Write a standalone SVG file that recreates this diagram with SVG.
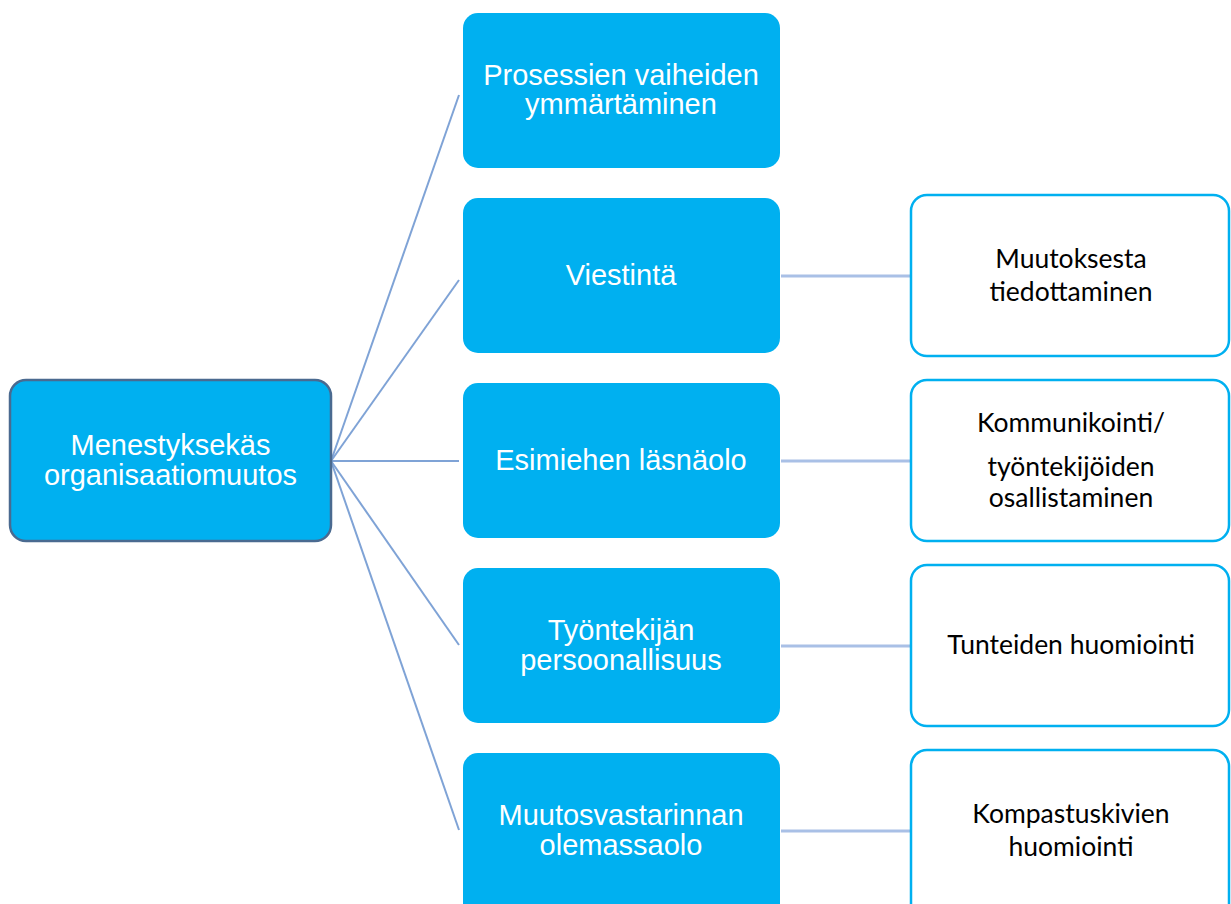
<svg xmlns="http://www.w3.org/2000/svg" width="1231" height="904" viewBox="0 0 1231 904">
<style>
.root{fill:#00b0f0;stroke:#4a6a90;stroke-width:2.5}
.l1{fill:#00b0f0}
.l2{fill:#ffffff;stroke:#00b0f0;stroke-width:2.5}
.tw{font-family:"Liberation Sans",Arial,sans-serif;font-size:29px;fill:#ffffff;text-anchor:middle}
.tb{font-family:Lato,"Liberation Sans",sans-serif;font-size:26.5px;fill:#000000;text-anchor:middle}
.c1{stroke:#7fa3d6;stroke-width:2;fill:none}
.c2{stroke:#a9c0e6;stroke-width:3;fill:none}
</style>
<rect width="1231" height="904" fill="#ffffff"/>
<g id="connectors">
<line class="c1" x1="331" y1="461" x2="459" y2="95"/>
<line class="c1" x1="331" y1="461" x2="459" y2="280"/>
<line class="c1" x1="331" y1="461" x2="459" y2="461"/>
<line class="c1" x1="331" y1="461" x2="459" y2="645"/>
<line class="c1" x1="331" y1="461" x2="459" y2="830"/>
<line class="c2" x1="781" y1="276" x2="910" y2="276"/>
<line class="c2" x1="781" y1="461" x2="910" y2="461"/>
<line class="c2" x1="781" y1="646" x2="910" y2="646"/>
<line class="c2" x1="781" y1="831" x2="910" y2="831"/>
</g>
<g id="root">
<rect class="root" x="10" y="380" width="321" height="161" rx="16"/>
<text class="tw" x="170.5" y="455">Menestyksekäs</text>
<text class="tw" x="170.5" y="485">organisaatiomuutos</text>
</g>
<g id="n1">
<rect class="l1" x="463" y="13" width="317" height="155" rx="15"/>
<text class="tw" x="621" y="85">Prosessien vaiheiden</text>
<text class="tw" x="621" y="114">ymmärtäminen</text>
</g>
<g id="n2">
<rect class="l1" x="463" y="198" width="317" height="155" rx="15"/>
<text class="tw" x="621" y="285">Viestintä</text>
</g>
<g id="n3">
<rect class="l1" x="463" y="383" width="317" height="155" rx="15"/>
<text class="tw" x="621" y="470">Esimiehen läsnäolo</text>
</g>
<g id="n4">
<rect class="l1" x="463" y="568" width="317" height="155" rx="15"/>
<text class="tw" x="621" y="640">Työntekijän</text>
<text class="tw" x="621" y="670">persoonallisuus</text>
</g>
<g id="n5">
<rect class="l1" x="463" y="753" width="317" height="170" rx="15"/>
<text class="tw" x="621" y="825">Muutosvastarinnan</text>
<text class="tw" x="621" y="855">olemassaolo</text>
</g>
<g id="m1">
<rect class="l2" x="911" y="195" width="318" height="161" rx="16"/>
<text class="tb" x="1071" y="268">Muutoksesta</text>
<text class="tb" x="1071" y="301">tiedottaminen</text>
</g>
<g id="m2">
<rect class="l2" x="911" y="380" width="318" height="161" rx="16"/>
<text class="tb" x="1071" y="432">Kommunikointi/</text>
<text class="tb" x="1071" y="476">työntekijöiden</text>
<text class="tb" x="1071" y="507">osallistaminen</text>
</g>
<g id="m3">
<rect class="l2" x="911" y="565" width="318" height="161" rx="16"/>
<text class="tb" x="1071" y="654">Tunteiden huomiointi</text>
</g>
<g id="m4">
<rect class="l2" x="911" y="750" width="318" height="170" rx="16"/>
<text class="tb" x="1071" y="823">Kompastuskivien</text>
<text class="tb" x="1071" y="856">huomiointi</text>
</g>
</svg>
